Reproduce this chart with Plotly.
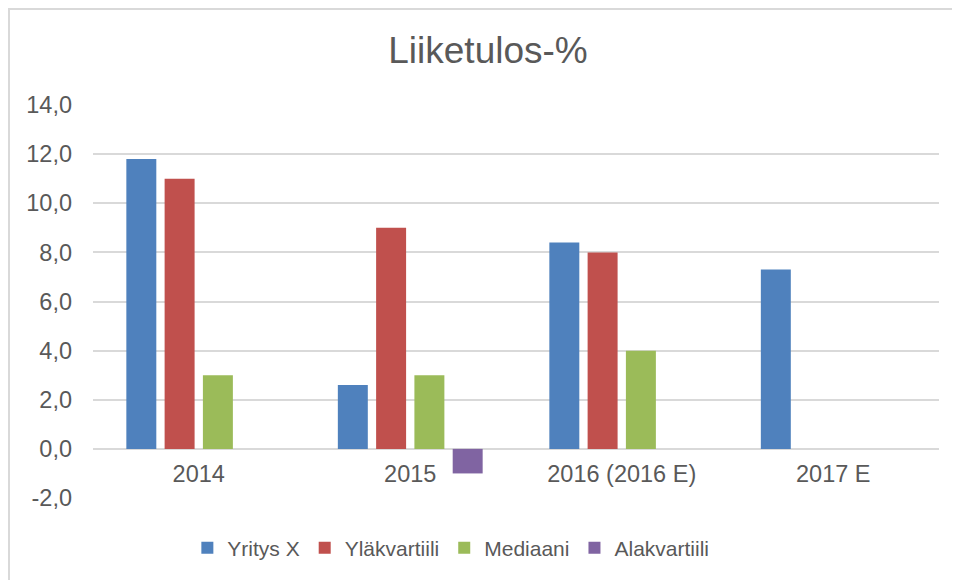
"""Liiketulos-% grouped bar chart (Excel-style)."""
import plotly.graph_objects as go

# ------------------------------------------------------------------ data

YEARS = ["2014", "2015", "2016 (2016 E)", "2017 E"]

YRITYS_X = [11.8, 2.6, 8.4, 7.3]
YLAKVARTIILI = [11.0, 9.0, 8.0, None]
MEDIAANI = [3.0, 3.0, 4.0, None]
ALAKVARTIILI = [None, -1.0, None, None]

Y_TICKS = [-2, 0, 2, 4, 6, 8, 10, 12, 14]
Y_TICK_LABELS = ["-2,0", "0,0", "2,0", "4,0", "6,0", "8,0", "10,0", "12,0", "14,0"]

SERIES = [
    ("Yritys X", YRITYS_X, "#4F81BD"),
    ("Yläkvartiili", YLAKVARTIILI, "#C0504D"),
    ("Mediaani", MEDIAANI, "#9BBB59"),
    ("Alakvartiili", ALAKVARTIILI, "#8064A2"),
]

FONT = "Liberation Sans, Arial, sans-serif"
TEXT_COLOR = "#595959"
GRID_COLOR = "#d9d9d9"

# page has an 8px body margin, so the figure is sized to fit the window
W, H = 952, 572
PLOT_L, PLOT_R, PLOT_T, PLOT_B = 85, 931, 97, 490
PLOT_W, PLOT_H = PLOT_R - PLOT_L, PLOT_B - PLOT_T

# ------------------------------------------------------------------ chart

fig = go.Figure()
for name, values, color in SERIES:
    fig.add_trace(go.Bar(
        name=name,
        x=YEARS,
        y=values,
        marker_color=color,
        marker_line_width=0,
    ))

fig.update_layout(
    width=W,
    height=H,
    barmode="group",
    bargap=0.276,
    bargroupgap=0.217,
    paper_bgcolor="white",
    plot_bgcolor="white",
    font=dict(family=FONT, color=TEXT_COLOR, size=22),
    margin=dict(l=PLOT_L, r=W - PLOT_R, t=PLOT_T, b=H - PLOT_B, pad=0),
    title=dict(
        text="Liiketulos-%",
        x=480 / W, xanchor="center",
        y=1 - 42 / H, yanchor="middle",
        font=dict(size=37, color=TEXT_COLOR, family=FONT),
    ),
    xaxis=dict(
        anchor="free",
        position=2 / 16,
        showgrid=False,
        showline=False,
        zeroline=False,
        ticks="",
        ticklabelstandoff=9,
        tickfont=dict(size=23.5, color=TEXT_COLOR),
    ),
    yaxis=dict(
        range=[-2, 14],
        tickvals=Y_TICKS,
        ticktext=Y_TICK_LABELS,
        showgrid=True,
        gridcolor=GRID_COLOR,
        gridwidth=1.5,
        zeroline=True,
        zerolinecolor=GRID_COLOR,
        zerolinewidth=2,
        showline=False,
        ticks="",
        ticklabelstandoff=20,
        tickfont=dict(size=23.5, color=TEXT_COLOR),
    ),
    legend=dict(
        orientation="h",
        x=0.423, xanchor="center",
        y=(PLOT_B - 540) / PLOT_H, yanchor="middle",
        font=dict(size=21, color=TEXT_COLOR),
        bgcolor="rgba(0,0,0,0)",
    ),
    showlegend=True,
)

# chart area border (light gray frame along the figure's top and left edge)
fig.add_shape(
    type="rect",
    xref="paper", yref="paper",
    x0=(1 - PLOT_L) / PLOT_W, x1=1.2,
    y0=-0.4, y1=(PLOT_B - 1) / PLOT_H,
    line=dict(color=GRID_COLOR, width=2),
    fillcolor="rgba(0,0,0,0)",
    layer="below",
)

fig.write_html("out.html")
